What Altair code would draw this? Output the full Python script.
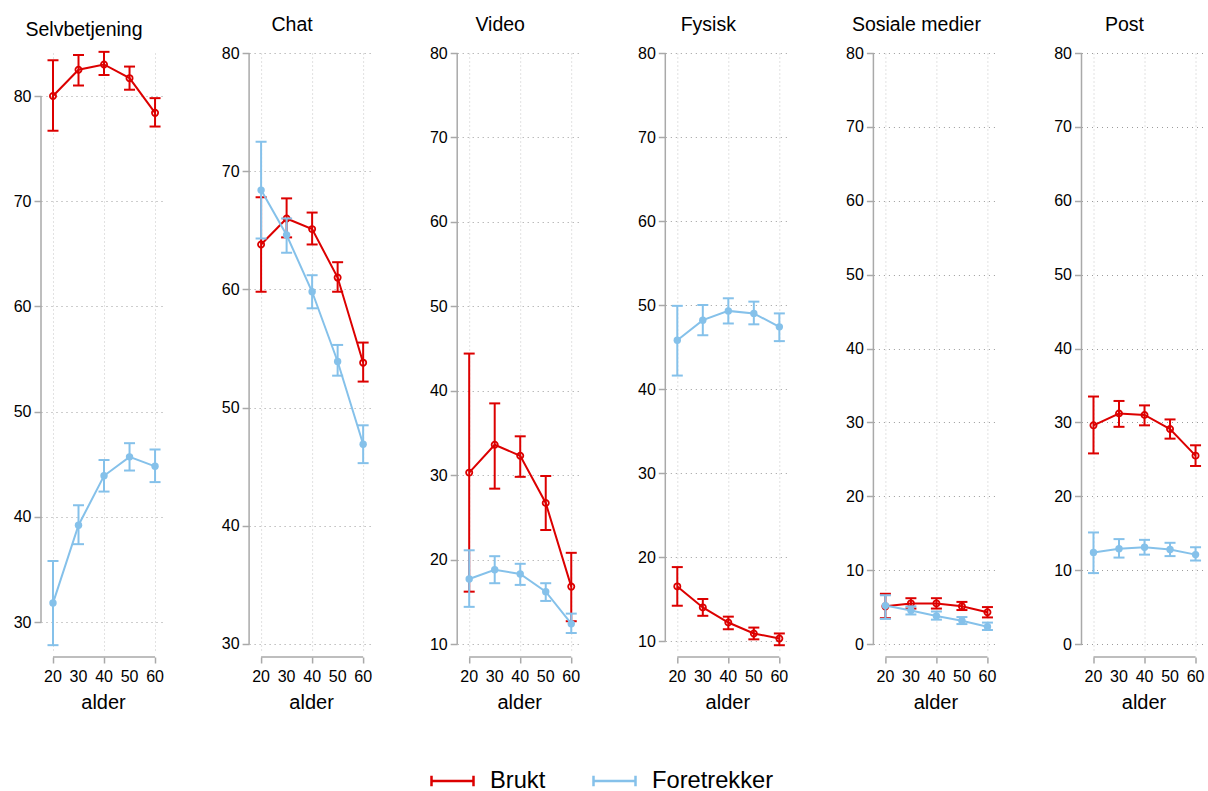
import altair as alt
import pandas as pd

AGES = [20, 30, 40, 50, 60]
PANELS = ["Selvbetjening", "Chat", "Video", "Fysisk", "Sosiale medier", "Post"]
SERIES = ["Brukt", "Foretrekker"]

selv_brukt = [80.0, 82.5, 83.0, 81.7, 78.4]
selv_brukt_lo = [76.7, 81.0, 82.0, 80.6, 77.1]
selv_brukt_hi = [83.4, 83.9, 84.2, 82.8, 79.8]
selv_foretr = [31.8, 39.2, 43.9, 45.7, 44.8]
selv_foretr_lo = [27.8, 37.4, 42.4, 44.4, 43.3]
selv_foretr_hi = [35.8, 41.1, 45.4, 47.0, 46.4]

chat_brukt = [63.8, 66.0, 65.1, 61.0, 53.8]
chat_brukt_lo = [59.8, 64.4, 63.8, 59.8, 52.2]
chat_brukt_hi = [67.8, 67.7, 66.5, 62.3, 55.5]
chat_foretr = [68.4, 64.6, 59.8, 53.9, 46.9]
chat_foretr_lo = [64.3, 63.1, 58.4, 52.7, 45.3]
chat_foretr_hi = [72.5, 66.0, 61.2, 55.3, 48.5]

video_brukt = [30.3, 33.6, 32.3, 26.7, 16.8]
video_brukt_lo = [16.2, 28.4, 29.8, 23.5, 12.7]
video_brukt_hi = [44.4, 38.5, 34.6, 29.9, 20.8]
video_foretr = [17.7, 18.8, 18.3, 16.2, 12.4]
video_foretr_lo = [14.4, 17.2, 17.0, 15.1, 11.3]
video_foretr_hi = [21.1, 20.4, 19.5, 17.2, 13.6]

fys_brukt = [16.5, 14.0, 12.2, 10.9, 10.3]
fys_brukt_lo = [14.2, 13.0, 11.4, 10.2, 9.5]
fys_brukt_hi = [18.8, 15.0, 12.9, 11.6, 10.9]
fys_foretr = [45.8, 48.2, 49.3, 49.0, 47.4]
fys_foretr_lo = [41.6, 46.4, 47.8, 47.7, 45.7]
fys_foretr_hi = [49.9, 50.0, 50.8, 50.4, 49.0]

sos_brukt = [5.1, 5.5, 5.5, 5.1, 4.3]
sos_brukt_lo = [3.5, 4.8, 4.8, 4.6, 3.6]
sos_brukt_hi = [6.8, 6.2, 6.2, 5.7, 5.0]
sos_foretr = [5.2, 4.55, 3.8, 3.15, 2.35]
sos_foretr_lo = [3.4, 4.0, 3.3, 2.7, 1.9]
sos_foretr_hi = [6.6, 5.1, 4.4, 3.65, 2.9]

post_brukt = [29.6, 31.2, 31.0, 29.1, 25.5]
post_brukt_lo = [25.8, 29.4, 29.6, 27.8, 24.1]
post_brukt_hi = [33.5, 32.9, 32.3, 30.4, 26.9]
post_foretr = [12.4, 12.9, 13.1, 12.8, 12.1]
post_foretr_lo = [9.6, 11.7, 12.1, 11.9, 11.3]
post_foretr_hi = [15.1, 14.2, 14.1, 13.7, 13.1]

Y_TICKS = [
    [30, 40, 50, 60, 70, 80],
    [30, 40, 50, 60, 70, 80],
    [10, 20, 30, 40, 50, 60, 70, 80],
    [10, 20, 30, 40, 50, 60, 70, 80],
    [0, 10, 20, 30, 40, 50, 60, 70, 80],
    [0, 10, 20, 30, 40, 50, 60, 70, 80],
]
Y_DOMAINS = [
    [27.34, 84.09],
    [29.49, 80],
    [9.29, 80],
    [8.93, 80],
    [-0.81, 80],
    [-0.81, 80],
]
X_DOMAIN = [15.3, 63.9]

RED = "#dc0000"
BLUE = "#85c1ea"
GRAY = "#a9a9a9"
W, H = 124, 597
FONT = "Liberation Sans"

LEGEND_PATH = "M-1,-0.25L-1,0.25M-1,0L1,0M1,-0.25L1,0.25"

series_data = [
    (selv_brukt, selv_brukt_lo, selv_brukt_hi, selv_foretr, selv_foretr_lo, selv_foretr_hi),
    (chat_brukt, chat_brukt_lo, chat_brukt_hi, chat_foretr, chat_foretr_lo, chat_foretr_hi),
    (video_brukt, video_brukt_lo, video_brukt_hi, video_foretr, video_foretr_lo, video_foretr_hi),
    (fys_brukt, fys_brukt_lo, fys_brukt_hi, fys_foretr, fys_foretr_lo, fys_foretr_hi),
    (sos_brukt, sos_brukt_lo, sos_brukt_hi, sos_foretr, sos_foretr_lo, sos_foretr_hi),
    (post_brukt, post_brukt_lo, post_brukt_hi, post_foretr, post_foretr_lo, post_foretr_hi),
]

cscale = alt.Scale(domain=SERIES, range=[RED, BLUE])
legend = alt.Legend(
    title=None, orient="none", legendX=389, legendY=705, direction="horizontal",
    symbolType=LEGEND_PATH, symbolSize=1764, symbolStrokeWidth=2.5,
    labelFontSize=23.7, labelOffset=15, columnPadding=42, labelColor="black",
    labelFont=FONT,
)


def make_panel(i):
    title = PANELS[i]
    bm, bl, bh, fm, fl, fh = series_data[i]
    rows = []
    for s, m, lo, hi in [("Brukt", bm, bl, bh), ("Foretrekker", fm, fl, fh)]:
        for a, v, l, h in zip(AGES, m, lo, hi):
            rows.append(dict(alder=a, serie=s, verdi=v, lo=l, hi=h))
    df = pd.DataFrame(rows)
    ticks = Y_TICKS[i]
    xscale = alt.Scale(domain=X_DOMAIN, nice=False, zero=False)
    yscale = alt.Scale(domain=Y_DOMAINS[i], nice=False, zero=False)

    base = alt.Chart(df)
    axes = base.mark_point(opacity=0).encode(
        x=alt.X("alder:Q", scale=xscale, axis=alt.Axis(
            values=AGES, title="alder", domain=False, offset=7, tickSize=6,
            tickWidth=1.5, tickColor=GRAY, labels=False,
            titleFontSize=20, titleFontWeight="normal", titlePadding=29,
            grid=True, gridDash=[1, 3], gridColor="#c4c4c4", gridWidth=1,
            titleColor="black", titleFont=FONT)),
        y=alt.Y("verdi:Q", scale=yscale, axis=alt.Axis(
            values=ticks, title=None, domain=False, tickSize=7, tickWidth=1.5,
            tickColor=GRAY, labelFontSize=16, labelPadding=3, grid=True,
            labelOverlap=False, labelFlush=False,
            gridDash=[1, 4], gridColor="#9c9c9c", gridWidth=1,
            labelColor="black", labelFont=FONT)),
    )
    one = alt.Chart(pd.DataFrame({"k": [0]}))
    yline = one.mark_rule(color=GRAY, strokeWidth=1.5).encode(
        x=alt.value(0), y=alt.datum(ticks[0]), y2=alt.datum(ticks[-1]))
    xline = one.mark_rule(color=GRAY, strokeWidth=1.5).encode(
        x=alt.datum(AGES[0]), x2=alt.datum(AGES[-1]), y=alt.value(H + 7))
    xlabels = alt.Chart(pd.DataFrame({"alder": AGES})).mark_text(
        baseline="top", fontSize=16, font=FONT, color="black").encode(
        x="alder:Q", y=alt.value(H + 19), text=alt.Text("alder:Q", format="d"))

    layers = [axes, yline, xline, xlabels]
    for s, col in [("Brukt", RED), ("Foretrekker", BLUE)]:
        sub = base.transform_filter(alt.datum.serie == s)
        layers.append(sub.mark_rule(color=col, strokeWidth=2).encode(
            x="alder:Q", y="lo:Q", y2="hi:Q"))
        layers.append(sub.mark_tick(color=col, orient="horizontal", size=11,
                                    thickness=2, opacity=1).encode(x="alder:Q", y="lo:Q"))
        layers.append(sub.mark_tick(color=col, orient="horizontal", size=11,
                                    thickness=2, opacity=1).encode(x="alder:Q", y="hi:Q"))
        layers.append(sub.mark_line(strokeWidth=2).encode(
            x="alder:Q", y="verdi:Q",
            color=alt.Color("serie:N", scale=cscale, legend=legend)))
        if s == "Brukt":
            layers.append(sub.mark_point(filled=False, color=col, size=38,
                                         strokeWidth=1.8, opacity=1).encode(
                x="alder:Q", y="verdi:Q"))
        else:
            layers.append(sub.mark_point(filled=True, color=col, size=55,
                                         opacity=1).encode(
                x="alder:Q", y="verdi:Q"))

    return alt.layer(*layers).properties(
        width=W, height=H,
        title=alt.TitleParams(title, dx=-19, offset=10, fontSize=19.5,
                              fontWeight="normal", anchor="middle",
                              font=FONT, color="black"),
    )


chart = alt.hconcat(*[make_panel(i) for i in range(6)], spacing=84.1, bounds="flush")
chart = chart.resolve_scale(color="shared", x="independent", y="independent")
chart = chart.resolve_legend(color="shared")
chart = chart.properties(
    padding={"left": 13, "top": 14, "right": 0, "bottom": 0},
    background="white",
).configure(
    font=FONT,
    view=alt.ViewConfig(stroke=None),
)

chart.save("out.html", embed_options={"renderer": "svg", "actions": False})
